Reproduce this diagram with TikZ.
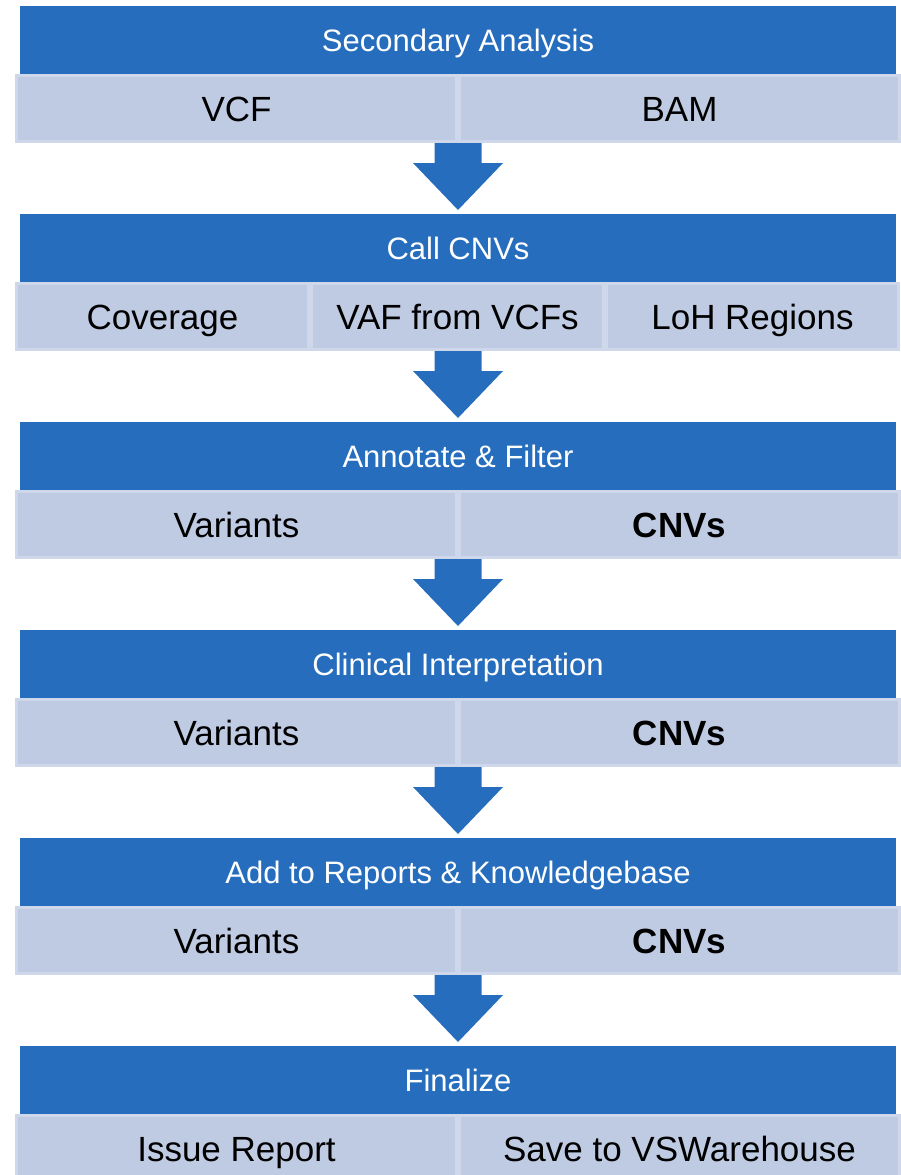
\documentclass[tikz,border=0pt]{standalone}
\usepackage{fontspec}
\setmainfont{Liberation Sans}
\definecolor{headblue}{RGB}{38,110,189}
\definecolor{cellfill}{RGB}{191,203,227}
\definecolor{cellline}{RGB}{207,216,234}
\tikzset{
x=1pt, y=-1pt, % one unit is one pixel of the page, y grows downwards
header/.style={fill=headblue, text=white, minimum width=876pt, minimum height=68pt, inner sep=0pt, text height=22.2pt, text depth=0pt, font=\fontsize{31}{37}\selectfont}, % blue title bar of a step
cell/.style={fill=cellfill, draw=cellline, line width=3pt, minimum height=66pt, inner sep=0pt, text height=25pt, text depth=0pt, font=\fontsize{35}{42}\selectfont}, % light box under a title bar
half/.style={cell, minimum width=440pt}, % two boxes in a row
third/.style={cell, minimum width=292pt}, % three boxes in a row
flow/.style={fill=headblue}, % thick arrow from one step to the next
}

\begin{document}
\begin{tikzpicture}
\useasboundingbox (0,0) rectangle (901,1175);

\node[header] at (458,40) (h1) {Secondary Analysis};
\node[half] at (236.5,108.5) (a1) {VCF};
\node[half] at (679.5,108.5) (b1) {BAM};

\node[header] at (458,248) (h2) {Call CNVs};
\node[third] at (162.5,316.5) (a2) {Coverage};
\node[third] at (457.5,316.5) (b2) {VAF from VCFs};
\node[third] at (752.5,316.5) (c2) {LoH Regions};

\node[header] at (458,456) (h3) {Annotate \& Filter};
\node[half] at (236.5,524.5) (a3) {Variants};
\node[half] at (679.5,524.5) (b3) {\textbf{CNVs}};

\node[header] at (458,664) (h4) {Clinical Interpretation};
\node[half] at (236.5,732.5) (a4) {Variants};
\node[half] at (679.5,732.5) (b4) {\textbf{CNVs}};

\node[header] at (458,872) (h5) {Add to Reports \& Knowledgebase};
\node[half] at (236.5,940.5) (a5) {Variants};
\node[half] at (679.5,940.5) (b5) {\textbf{CNVs}};

\node[header] at (458,1080) (h6) {Finalize};
\node[half] at (236.5,1148.5) (a6) {Issue Report};
\node[half] at (679.5,1148.5) (b6) {Save to VSWarehouse};

\foreach \a/\b in {a1/h2, a2/h3, a3/h4, a4/h5, a5/h6}
  \fill[flow] (\a.south -| \b.north) ++(-23.5,0) -- ++(47,0) -- ++(0,20) -- ++(21.5,0)
    -- ++(-45,47) -- ++(-45,-47) -- ++(21.5,0) -- cycle;

\end{tikzpicture}
\end{document}
